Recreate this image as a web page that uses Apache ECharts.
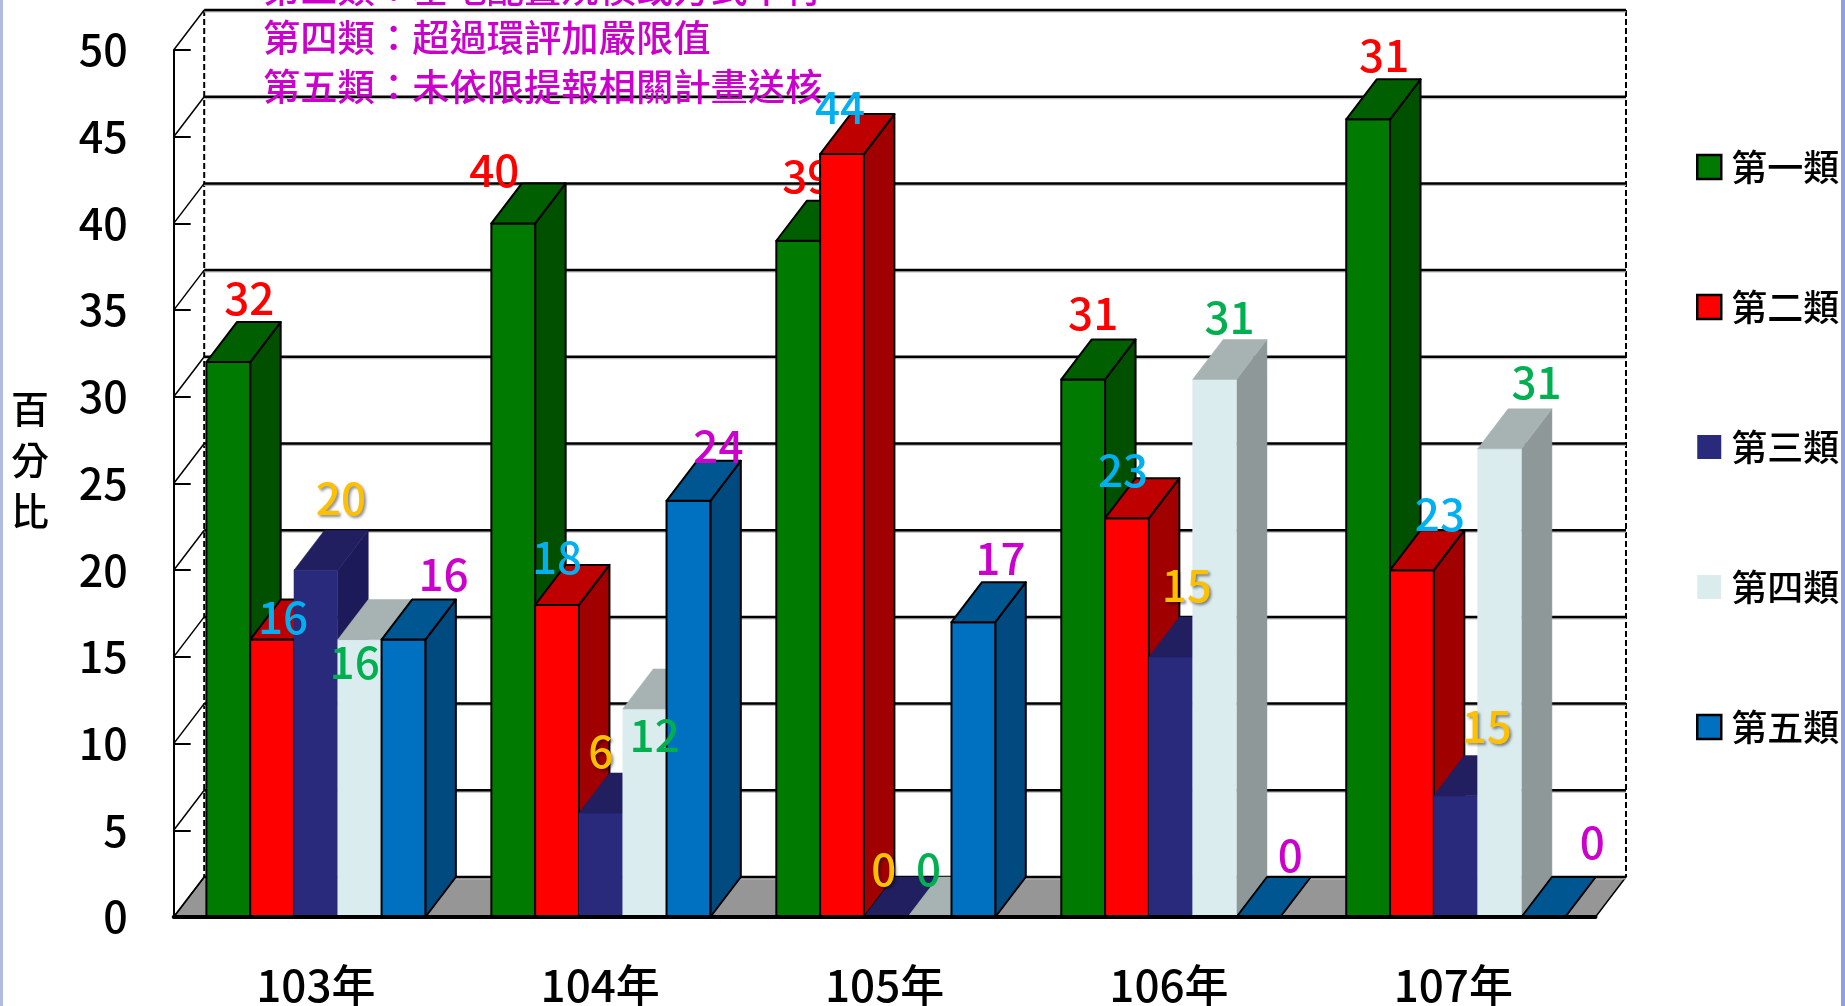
<!DOCTYPE html>
<html lang="zh-Hant">

<head>
  <meta charset="UTF-8">
  <title>echarts</title>
  <script src="https://cdn.jsdelivr.net/npm/echarts@6/dist/echarts.min.js"></script>
  <style>
    html,
    body {
      padding: 0;
      margin: 0;
      background: #fff;
    }

    #chart {
      height: 1006px;
      width: 1845px;
    }
  </style>
</head>

<body>
  <div id="chart"></div>
  <script>
    const years = ['103年', '104年', '105年', '106年', '107年']
    const typeNames = ['第一類', '第二類', '第三類', '第四類', '第五類']
    const yTicks = [0, 5, 10, 15, 20, 25, 30, 35, 40, 45, 50]

    // 柱高
    const type1 = [32, 40, 39, 31, 46]
    const type2 = [16, 18, 44, 23, 20]
    const type3 = [20, 6, 0, 15, 7]
    const type4 = [16, 12, 0, 31, 27]
    const type5 = [16, 24, 17, 0, 0]

    // 原圖的數字標籤是手動文字方塊，和柱高不一定相同
    const label1 = ['32', '40', '39', '31', '31']
    const label2 = ['16', '18', '44', '23', '23']
    const label3 = ['20', '6', '0', '15', '15']
    const label4 = ['16', '12', '0', '31', '31']
    const label5 = ['16', '24', '17', '0', '0']

    const noteLines = [
      '第三類：基地配置規模或方式不符',
      '第四類：超過環評加嚴限值',
      '第五類：未依限提報相關計畫送核'
    ]

    const values = [type1, type2, type3, type4, type5]
    const labels = [label1, label2, label3, label4, label5]

    // 標籤相對柱頂中心的位移 [dx, dy]
    const labelNudge = [
      [[21, -64], [-19, -53], [9, -64], [10, -66], [16, -64]],
      [[11, -22], [0, -48], [-2, -47], [-4, -48], [28, -56]],
      [[25, -72], [0, -62], [-2, -48], [16, -72], [31, -69]],
      [[-5, 23], [10, 26], [-1, -48], [15, -62], [37, -67]],
      [[40, -65], [30, -55], [27, -64], [32, -62], [49, -75]]
    ]

    const faces = [
      { front: '#007a00', top: '#005f00', side: '#005000', outline: true },
      { front: '#ff0000', top: '#bf0000', side: '#a00000', outline: true },
      { front: '#2a2a7c', top: '#211f60', side: '#1c1a58', outline: false },
      { front: '#dbecef', top: '#a7b3b2', side: '#8e9899', outline: false },
      { front: '#0070c0', top: '#005690', side: '#004a80', outline: true }
    ]
    const labelColors = ['#ff0000', '#00b0f0', '#ffc000', '#00b050', '#cc00cc']

    const FONT = '"Noto Sans CJK TC", "Noto Sans", sans-serif'
    const DX = 30.5 // 3D 深度
    const DY = -40
    const GAP = 0.23
    const DRIFT = 0.6 // 原圖每組柱子比類別帶略寬

    function labelEl(s, c, x, y) {
      const nudge = labelNudge[s][c]
      const style = {
        text: labels[s][c],
        x: x + nudge[0],
        y: y + nudge[1],
        align: 'center',
        verticalAlign: 'middle',
        fill: labelColors[s],
        font: '500 44px ' + FONT
      }
      if (s === 2) {
        // 橘色字有陰影
        style.textShadowColor = 'rgba(0,0,0,0.45)'
        style.textShadowBlur = 3
        style.textShadowOffsetX = 2
        style.textShadowOffsetY = 2
      }
      return { type: 'text', style: style }
    }

    function barBox(s, api) {
      const c = api.value(0)
      const base = api.coord([c, 0])
      const top = api.coord([c, api.value(1)])
      const band = api.size([1, 0])[0]
      const w = band * (1 - GAP) / 5
      const x = base[0] - band / 2 + band * GAP / 2 + s * w + c * DRIFT
      return { c: c, x: x, w: w, y0: base[1], y1: top[1] }
    }

    function poly(points, fill, outline) {
      return {
        type: 'polygon',
        shape: { points: points },
        style: {
          fill: fill,
          stroke: outline ? '#000' : fill,
          lineWidth: outline ? 2 : 0.5,
          lineJoin: 'round'
        }
      }
    }

    function renderBar(s) {
      return function (params, api) {
        const b = barBox(s, api)
        const f = faces[s]
        const r = b.x + b.w
        const kids = []
        if (b.y0 - b.y1 > 0.5) {
          kids.push(poly([[r, b.y1], [r + DX, b.y1 + DY], [r + DX, b.y0 + DY], [r, b.y0]], f.side, f.outline))
          kids.push(poly([[b.x, b.y1], [r, b.y1], [r, b.y0], [b.x, b.y0]], f.front, f.outline))
        }
        kids.push(poly([[b.x, b.y1], [b.x + DX, b.y1 + DY], [r + DX, b.y1 + DY], [r, b.y1]], f.top, f.outline))
        // 105年第一類的 39 被紅柱擋住
        if (s === 0 && b.c === 2) kids.push(labelEl(s, b.c, b.x + b.w / 2, b.y1))
        return { type: 'group', children: kids }
      }
    }

    function renderLabel(s) {
      return function (params, api) {
        const b = barBox(s, api)
        if (s === 0 && b.c === 2) return null
        return labelEl(s, b.c, b.x + b.w / 2, b.y1)
      }
    }

    // 背牆格線、左牆斜線
    function renderWall(params, api) {
      const g = params.coordSys
      const y = api.coord([0, api.value(1)])[1]
      return {
        type: 'group',
        children: [{
          type: 'line',
          shape: { x1: g.x + DX, y1: y + DY + 1.5, x2: g.x + g.width + DX, y2: y + DY + 1.5 },
          style: { stroke: '#bbb', lineWidth: 2 }
        }, {
          type: 'line',
          shape: { x1: g.x + DX, y1: y + DY, x2: g.x + g.width + DX, y2: y + DY },
          style: { stroke: '#000', lineWidth: 2.5 }
        }, {
          type: 'line',
          shape: { x1: g.x, y1: y, x2: g.x + DX, y2: y + DY },
          style: { stroke: '#000', lineWidth: 1.5 }
        }]
      }
    }

    // 地板與兩條虛線
    function renderFloor(params, api) {
      const g = params.coordSys
      const b = g.y + g.height
      const l = g.x
      const r = g.x + g.width
      return {
        type: 'group',
        children: [{
          type: 'polygon',
          shape: { points: [[l, b], [l + DX, b + DY], [r + DX, b + DY], [r, b]] },
          style: { fill: '#969696', stroke: '#000', lineWidth: 1.5 }
        }, {
          type: 'line',
          shape: { x1: l + DX, y1: g.y + DY, x2: l + DX, y2: b + DY },
          style: { stroke: '#000', lineWidth: 2, lineDash: [6, 3] }
        }, {
          type: 'line',
          shape: { x1: r + DX, y1: g.y + DY, x2: r + DX, y2: b + DY },
          style: { stroke: '#000', lineWidth: 2, lineDash: [6, 3] }
        }]
      }
    }

    const series = [{
      type: 'custom',
      z: -1,
      renderItem: renderFloor,
      data: [[0, 0]]
    }, {
      type: 'custom',
      z: -1,
      renderItem: renderWall,
      data: yTicks.map(function (v) { return [0, v] })
    }]

    typeNames.forEach(function (name, s) {
      series.push({
        name: name,
        type: 'custom',
        z: 2,
        renderItem: renderBar(s),
        itemStyle: { color: faces[s].front },
        data: values[s].map(function (v, c) { return [c, v] })
      })
    })
    typeNames.forEach(function (name, s) {
      series.push({
        type: 'custom',
        z: 8,
        renderItem: renderLabel(s),
        data: values[s].map(function (v, c) { return [c, v] })
      })
    })

    const chartDom = document.getElementById('chart')
    const chart = echarts.init(chartDom)
    chart.setOption({
      animation: false,
      backgroundColor: '#fff',
      grid: { left: 173.7, right: 249.5, top: 50, bottom: 89, containLabel: false, outerBoundsMode: 'none' },
      legend: {
        orient: 'vertical',
        left: 1691,
        top: 142,
        icon: 'rect',
        itemWidth: 24,
        itemHeight: 24,
        itemGap: 100,
        textStyle: { color: '#000', fontSize: 36, fontWeight: 500, fontFamily: FONT, padding: [0, 0, 0, 5], lineHeight: 40 },
        selectedMode: false,
        data: typeNames.map(function (name, s) {
          return {
            name: name,
            itemStyle: {
              color: faces[s].front,
              borderColor: faces[s].outline ? '#000' : faces[s].front,
              borderWidth: faces[s].outline ? 2.5 : 0
            }
          }
        })
      },
      xAxis: {
        type: 'category',
        data: years,
        z: 6,
        axisLine: { lineStyle: { color: '#000', width: 4 } },
        axisTick: { inside: true, length: 17, lineStyle: { color: '#333', width: 1 } },
        axisLabel: { color: '#000', fontSize: 44, fontWeight: 500, fontFamily: FONT, margin: 46 }
      },
      yAxis: {
        type: 'value',
        min: 0,
        max: 50,
        interval: 5,
        axisLine: { show: true, lineStyle: { color: '#000', width: 2 } },
        axisTick: { show: true, inside: true, length: 17, lineStyle: { color: '#000', width: 2 } },
        axisLabel: { color: '#000', fontSize: 43, fontWeight: 500, fontFamily: FONT, margin: 46 },
        splitLine: { show: false }
      },
      graphic: [{
        type: 'text',
        x: 263,
        y: -36,
        z: 20,
        style: { text: noteLines.join('\n'), fill: '#cc00cc', font: '500 37.3px ' + FONT, lineHeight: 49 }
      }, {
        type: 'text',
        x: 30,
        y: 460,
        z: 20,
        style: {
          text: '百\n分\n比',
          fill: '#000',
          font: '500 38px ' + FONT,
          lineHeight: 51,
          align: 'center',
          verticalAlign: 'middle'
        }
      }, {
        type: 'rect',
        z: 30,
        shape: { x: 0, y: 0, width: 3, height: 1006 },
        style: { fill: '#b2bbdc' }
      }, {
        type: 'rect',
        z: 30,
        shape: { x: 1841, y: 0, width: 4, height: 1006 },
        style: { fill: '#8f9fdc' }
      }],
      series: series
    })
  </script>
</body>

</html>
